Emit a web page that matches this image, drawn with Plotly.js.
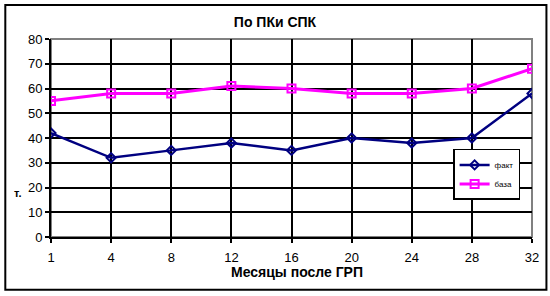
<!DOCTYPE html>
<html><head><meta charset="utf-8">
<script src="https://cdn.plot.ly/plotly-3.0.1.min.js"></script>
<style>html,body{margin:0;padding:0;background:#fff}#c{width:550px;height:296px}</style>
</head><body><div id="c"></div>
<script>
const categories = ['1','4','8','12','16','20','24','28','32'];
const fakt = [42, 32, 35, 38, 35, 40, 38, 40, 58];
const baza = [55, 58, 58, 61, 60, 58, 58, 60, 68];
const idx = categories.map((_, i) => i);

const traces = [
  {x: idx, y: fakt, name: 'факт', mode: 'lines+markers', type: 'scatter',
   line: {color: '#000080', width: 2.5},
   marker: {symbol: 'diamond-open', size: 7, color: '#000080', line: {width: 2, color: '#000080'}}},
  {x: idx, y: baza, name: 'база', mode: 'lines+markers', type: 'scatter',
   line: {color: '#FF00FF', width: 3},
   marker: {symbol: 'square-open', size: 8, color: '#FF00FF', line: {width: 2, color: '#FF00FF'}}}
];

const layout = {
  width: 550, height: 296,
  margin: {l: 51, r: 18, t: 39, b: 59},
  paper_bgcolor: '#fff', plot_bgcolor: '#fff',
  font: {family: 'Liberation Sans Narrow, Liberation Sans, Arial', size: 12, color: '#000'},
  title: {text: '<b>По ПКи СПК</b>', x: 0.5, xanchor: 'center', y: 0.925, yanchor: 'middle',
          font: {family: 'Liberation Sans, Arial', size: 14, color: '#000'}},
  xaxis: {
    tickvals: idx, ticktext: categories, range: [0, 8],
    showgrid: true, gridcolor: '#000', gridwidth: 2,
    showline: true, linecolor: '#000', linewidth: 2, mirror: false,
    ticks: 'outside', ticklen: 4, tickcolor: '#000', tickwidth: 2,
    ticklabelstandoff: 3,
    zeroline: false, tickfont: {size: 13}
  },
  yaxis: {
    range: [0, 80], dtick: 10,
    showgrid: true, gridcolor: '#000', gridwidth: 2,
    showline: true, linecolor: '#000', linewidth: 2,
    ticks: 'outside', ticklen: 4, tickcolor: '#000', tickwidth: 2,
    zeroline: false, tickfont: {size: 13}
  },
  showlegend: true,
  legend: {x: 0.836, y: 0.445, xanchor: 'left', yanchor: 'top',
           bordercolor: '#000', borderwidth: 1.5, bgcolor: '#fff',
           font: {size: 8, family: 'Liberation Sans, Arial'}, itemwidth: 30, tracegroupgap: 0},
  shapes: [
    {type: 'rect', xref: 'paper', yref: 'paper', x0: 0, x1: 1, y0: 0, y1: 1,
     line: {color: '#808080', width: 2}, layer: 'below'},
    {type: 'rect', xref: 'paper', yref: 'paper', x0: -0.095, x1: 1.03, y0: -0.267, y1: 1.172,
     line: {color: '#000', width: 2}}
  ],
  annotations: [
    {text: '<b>т.</b>', xref: 'paper', yref: 'paper', x: -0.058, y: 0.222, showarrow: false,
     xanchor: 'right', yanchor: 'middle', font: {size: 11, color: '#000', family: 'Liberation Sans, Arial'}},
    {text: '<b>Месяцы после ГРП</b>', xref: 'paper', yref: 'paper', x: 0.511, y: -0.177,
     showarrow: false, xanchor: 'center', yanchor: 'middle',
     font: {size: 14, color: '#000', family: 'Liberation Sans, Arial'}}
  ]
};
Plotly.newPlot('c', traces, layout, {displayModeBar: false, staticPlot: true});
</script></body></html>
